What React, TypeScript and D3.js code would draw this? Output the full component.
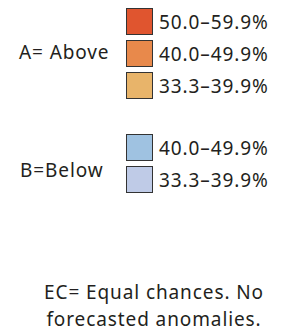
import React from "react";
import * as d3 from "d3";

const aboveLabels = ["50.0–59.9%", "40.0–49.9%", "33.3–39.9%"];
const aboveColors = ["#e0552f", "#e8894b", "#e8b46a"];
const belowLabels = ["40.0–49.9%", "33.3–39.9%"];
const belowColors = ["#9fc2e1", "#bfcbe7"];
const groupTitles = ["A= Above", "B=Below"];
const noteLines = ["EC= Equal chances. No", "forecasted anomalies."];

const W = 281;
const H = 331;
const FONT = "'Noto Sans', sans-serif";
const TEXT = "#231f20";
const FS = 19;
const LS = 0.9;

export default function App() {
  const step = 32;
  const sw = 26;
  const yAbove = d3.scaleLinear().domain([0, 1]).range([8, 8 + step]);
  const yBelow = d3.scaleLinear().domain([0, 1]).range([134, 134 + step]);
  const x0 = 126;

  const renderGroup = (labels: string[], colors: string[], y: d3.ScaleLinear<number, number>) =>
    labels.map((l, i) => (
      <g key={l + i}>
        <rect x={x0 + 0.5} y={y(i) + 0.5} width={sw} height={sw} fill={colors[i]} stroke="#333" strokeWidth={1} />
        <text x={159} y={y(i) + 21} fontSize={FS} letterSpacing={LS} fill={TEXT} fontFamily={FONT}>{l}</text>
      </g>
    ));

  return (
    <svg width={W} height={H} style={{ position: "absolute", left: 0, top: 0, background: "#fff" }}>
      {renderGroup(aboveLabels, aboveColors, yAbove)}
      {renderGroup(belowLabels, belowColors, yBelow)}
      <text x={19} y={59} fontSize={FS} letterSpacing={LS} fill={TEXT} fontFamily={FONT}>{groupTitles[0]}</text>
      <text x={20} y={177} fontSize={FS} letterSpacing={LS} fill={TEXT} fontFamily={FONT}>{groupTitles[1]}</text>
      {noteLines.map((t, i) => (
        <text key={t} x={154} y={299 + i * 27} fontSize={FS} letterSpacing={LS} fill={TEXT} fontFamily={FONT} textAnchor="middle">{t}</text>
      ))}
    </svg>
  );
}
